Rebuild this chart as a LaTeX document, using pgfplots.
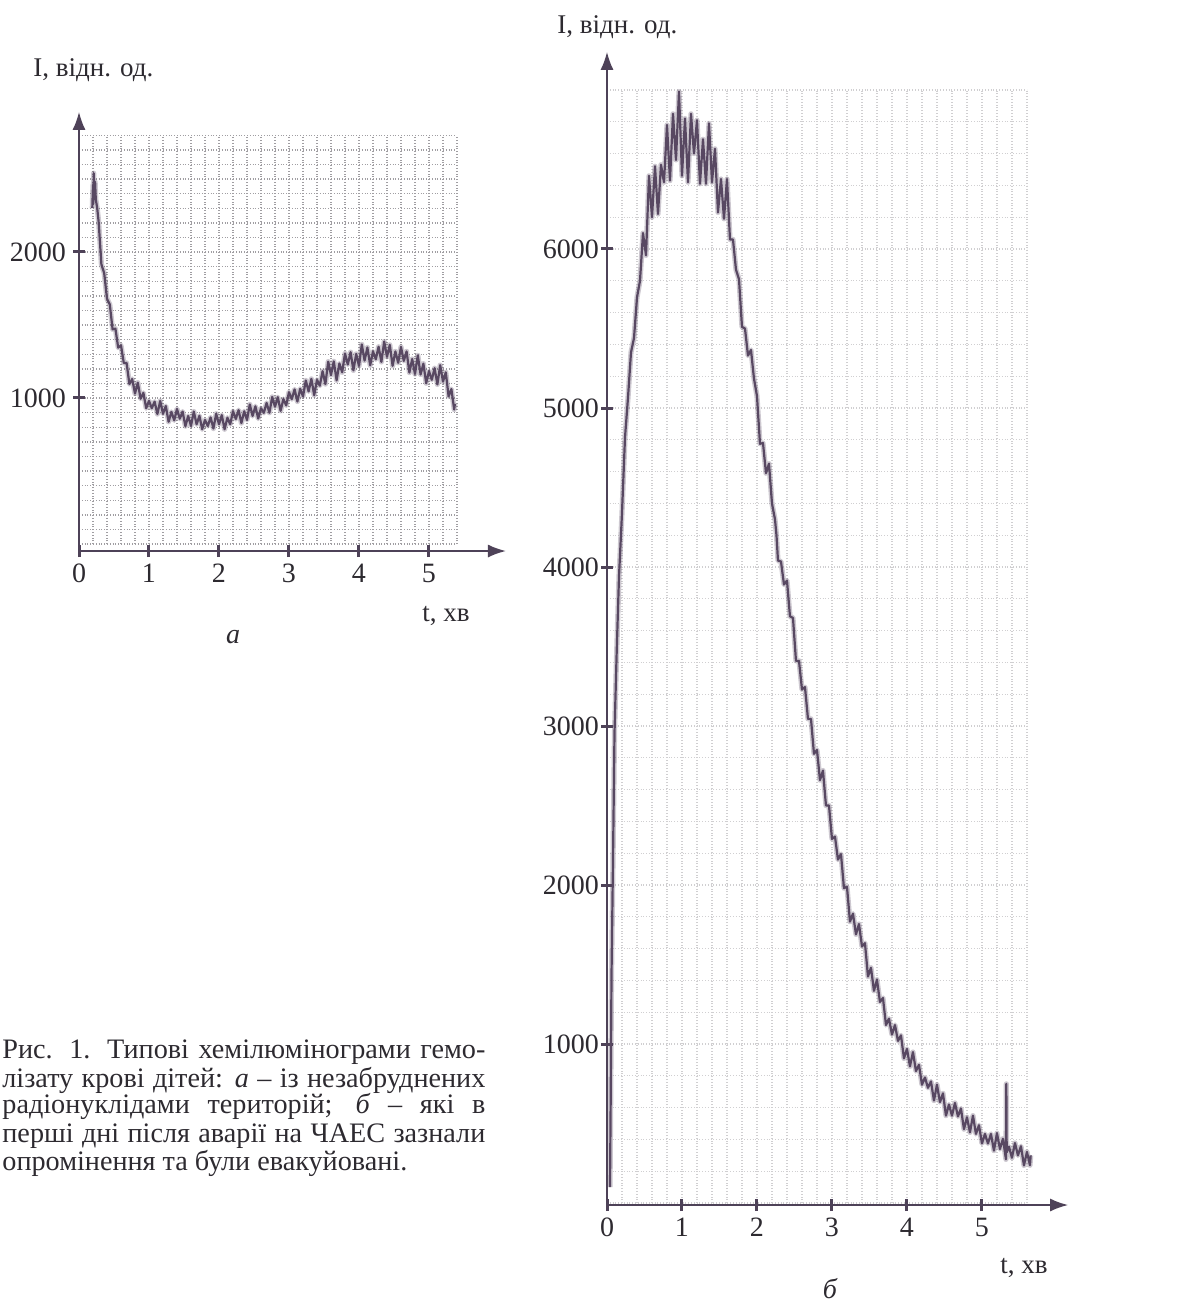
\documentclass[border=0pt]{standalone}
\usepackage{fontspec}
\setmainfont{Liberation Serif}
\usepackage{pgfplots}
\pgfplotsset{compat=1.18}
\usetikzlibrary{arrows.meta}

\definecolor{trace}{RGB}{88,72,98}
\definecolor{axiscol}{RGB}{78,66,88}
\definecolor{txt}{RGB}{45,42,48}
\definecolor{gridcol}{RGB}{160,158,162}

\pgfplotsset{
  chem/.style={
    scale only axis,
    axis lines=left,
    axis line style={axiscol, line width=1pt, -{Latex[length=9pt,width=6.5pt]}},
    tick style={axiscol, line width=1.5pt},
    major tick length=6pt,
    tick align=center,
    ticklabel style={font=\fontsize{14}{16}\selectfont, text=txt},
    /pgf/number format/assume math mode=true,
    /pgf/number format/1000 sep={},
  },
  gridonly/.style={
    scale only axis,
    axis line style={draw=none},
    xticklabels={}, yticklabels={},
    major tick length=0pt,
    grid=major,
  },
  fuzz/.style={trace, line width=2.6pt, opacity=0.3, line join=round},
  sharp/.style={trace, line width=1.1pt, line join=round},
}

\pgfplotstableread{
t v
0.19 2300
0.20 2460
0.205 2330
0.21 2540
0.22 2400
0.23 2480
0.24 2360
0.26 2300
0.28 2210
0.32 1915
0.36 1855
0.40 1680
0.44 1640
0.48 1470
0.52 1475
0.56 1345
0.60 1360
0.64 1240
0.68 1240
0.72 1095
0.76 1130
0.80 1030
0.84 1105
0.88 995
0.92 1035
0.96 930
1.00 980
1.04 930
1.08 975
1.12 890
1.16 980
1.20 892
1.24 945
1.28 837
1.32 905
1.36 847
1.40 925
1.44 858
1.48 907
1.52 807
1.56 877
1.60 809
1.64 907
1.68 820
1.72 878
1.76 786
1.80 850
1.84 808
1.88 867
1.92 791
1.96 892
2.00 820
2.04 883
2.08 786
2.12 865
2.16 820
2.20 910
2.24 856
2.28 917
2.32 828
2.36 909
2.40 850
2.44 956
2.48 877
2.52 943
2.56 859
2.60 930
2.64 898
2.68 966
2.72 899
2.76 1007
2.80 940
2.84 1006
2.88 912
2.92 993
2.96 949
3.00 1040
3.04 992
3.08 1059
3.12 976
3.16 1063
3.20 1010
3.24 1120
3.28 1045
3.32 1131
3.36 1019
3.40 1124
3.44 1084
3.48 1184
3.52 1095
3.56 1249
3.60 1157
3.64 1251
3.68 1121
3.72 1236
3.76 1176
3.80 1305
3.84 1229
3.88 1314
3.92 1189
3.96 1302
4.00 1219
4.04 1367
4.08 1256
4.12 1346
4.16 1224
4.20 1319
4.24 1265
4.28 1351
4.32 1247
4.36 1387
4.40 1282
4.44 1364
4.48 1220
4.52 1319
4.56 1241
4.60 1350
4.64 1254
4.68 1319
4.72 1174
4.76 1267
4.80 1164
4.84 1292
4.88 1161
4.92 1235
4.96 1101
5.00 1184
5.04 1124
5.08 1204
5.12 1093
5.16 1225
5.20 1112
5.24 1176
5.28 1011
5.32 1061
5.36 921
5.37 960
}\dataA

\pgfplotstableread{
t v
0.04 100
0.05 700
0.06 1430
0.08 2155
0.10 2955
0.13 3480
0.16 3940
0.20 4340
0.24 4815
0.28 5065
0.32 5350
0.36 5440
0.40 5695
0.44 5800
0.48 6100
0.52 5960
0.56 6460
0.60 6200
0.64 6520
0.68 6220
0.72 6530
0.76 6420
0.80 6780
0.84 6430
0.88 6850
0.92 6560
0.96 6990
1.00 6460
1.04 6820
1.08 6420
1.12 6850
1.16 6600
1.20 6810
1.24 6410
1.28 6690
1.32 6410
1.36 6790
1.40 6420
1.44 6630
1.48 6230
1.52 6440
1.56 6190
1.60 6440
1.64 6060
1.68 6060
1.72 5870
1.76 5810
1.80 5510
1.84 5500
1.88 5330
1.92 5365
1.96 5185
2.00 5075
2.04 4775
2.08 4780
2.12 4590
2.16 4650
2.20 4400
2.24 4300
2.26 4200
2.28 4040
2.32 4035
2.36 3890
2.40 3915
2.44 3690
2.48 3680
2.52 3410
2.56 3410
2.60 3230
2.64 3245
2.68 3045
2.72 3045
2.76 2825
2.80 2850
2.84 2660
2.88 2720
2.92 2500
2.96 2500
3.00 2290
3.04 2305
3.08 2160
3.12 2195
3.16 1980
3.20 1990
3.24 1770
3.28 1820
3.32 1690
3.36 1755
3.40 1615
3.44 1635
3.48 1425
3.52 1480
3.56 1335
3.60 1405
3.64 1265
3.68 1290
3.72 1120
3.76 1160
3.80 1060
3.84 1120
3.88 1020
3.92 1055
3.96 910
4.00 970
4.04 860
4.08 950
4.12 830
4.16 870
4.20 745
4.24 790
4.28 725
4.32 765
4.36 645
4.40 745
4.44 635
4.48 690
4.52 550
4.56 620
4.60 550
4.64 630
4.68 545
4.72 595
4.76 465
4.80 540
4.84 445
4.88 550
4.92 435
4.96 490
5.00 375
5.04 435
5.08 375
5.12 435
5.16 330
5.20 440
5.24 340
5.28 405
5.32 275
5.325 750
5.33 320
5.36 355
5.40 285
5.44 378
5.48 300
5.52 358
5.56 237
5.60 322
5.64 238
5.65 300
}\dataB

\begin{document}
\begin{tikzpicture}
\useasboundingbox (0,0) rectangle (592.5pt,-654pt);
\clip (0,0) rectangle (592.5pt,-654pt);

% ---- chart a: grid ----
\begin{axis}[gridonly, at={(39.5pt,-272pt)}, anchor=south west,
  width=189pt, height=204.4pt,
  xmin=0, xmax=5.4, ymin=0, ymax=2800,
  xtick={0,0.2,...,5.41}, ytick={0,100,...,2800},
  grid style={gridcol, densely dotted, line width=0.7pt}]
\addplot[draw=none] coordinates {(0,0)};
\end{axis}

% ---- chart a ----
\begin{axis}[chem, at={(39.5pt,-275.5pt)}, anchor=south west,
  width=213.5pt, height=219.6pt,
  xmin=0, xmax=6.1, ymin=-48, ymax=2960,
  xtick={0,1,2,3,4,5}, ytick={1000,2000}]
\addplot[fuzz] table[x=t, y=v] {\dataA};
\addplot[sharp] table[x=t, y=v] {\dataA};
\end{axis}

% ---- chart b: grid ----
\begin{axis}[gridonly, at={(303.5pt,-601.5pt)}, anchor=south west,
  width=210pt, height=556.5pt,
  xmin=0, xmax=5.6, ymin=0, ymax=7000,
  xtick={0,0.2,...,5.61}, ytick={0,200,...,7000},
  grid style={gridcol!50, densely dotted, line width=0.6pt}]
\addplot[draw=none] coordinates {(0,0)};
\end{axis}

% ---- chart b ----
\begin{axis}[chem, at={(303.5pt,-602.5pt)}, anchor=south west,
  width=230.6pt, height=576.6pt,
  xmin=0, xmax=6.15, ymin=-12, ymax=7240,
  xtick={0,1,2,3,4,5}, ytick={1000,2000,3000,4000,5000,6000},
  yticklabel style={xshift=2.5pt}]
\addplot[fuzz] table[x=t, y=v] {\dataB};
\addplot[sharp] table[x=t, y=v] {\dataB};
\end{axis}

% ---- texts (px units, y downwards) ----
\begin{scope}[x=0.5pt, y=-0.5pt, every node/.style={inner sep=0pt, text=txt}]
\node[anchor=base west, font=\fontsize{13.5}{16}\selectfont] at (33,76) {I, відн. од.};
\node[anchor=base west, font=\fontsize{13.5}{16}\selectfont] at (557,33) {I, відн. од.};
\node[anchor=base west, font=\fontsize{13.5}{16}\selectfont] at (422,621) {t, хв};
\node[anchor=base west, font=\fontsize{13.5}{16}\selectfont] at (1000,1273) {t, хв};
\node[font=\fontsize{14}{16}\selectfont\itshape] at (233,637) {а};
\node[font=\fontsize{14}{16}\selectfont\itshape] at (830,1289) {б};
\begin{scope}[every node/.append style={anchor=base west, font=\fontsize{14.1}{17}\selectfont}]
\node at (2,1058) {\makebox[241.5pt][s]{Рис. 1. Типові хемілюмінограми гемо-}};
\node at (2,1087) {\makebox[241.5pt][s]{лізату крові дітей: \textit{а} – із незабруднених}};
\node at (2,1113) {\makebox[241.5pt][s]{радіонуклідами територій; \textit{б} – які в}};
\node at (2,1142) {\makebox[241.5pt][s]{перші дні після аварії на ЧАЕС зазнали}};
\node at (2,1170) {опромінення та були евакуйовані.};
\end{scope}
\end{scope}
\end{tikzpicture}
\end{document}
